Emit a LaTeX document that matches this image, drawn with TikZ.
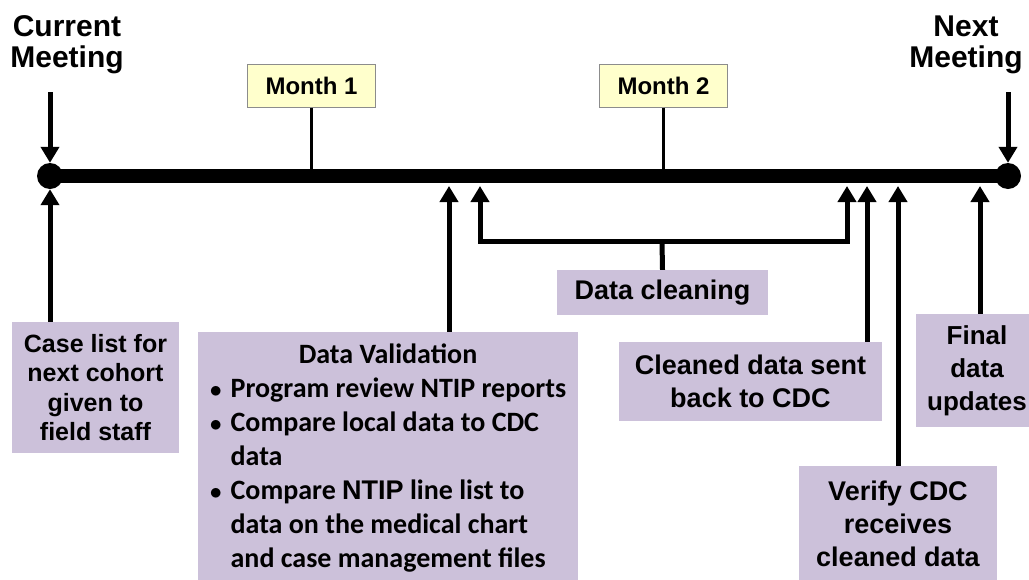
\documentclass[tikz,border=0pt]{standalone}
\usepackage{fontspec}
\setmainfont{Liberation Sans}
\newfontfamily\calfont{Carlito}
\usetikzlibrary{arrows.meta,positioning}
\definecolor{taskfill}{RGB}{204,193,218}
\definecolor{monthfill}{RGB}{255,255,204}
\definecolor{monthedge}{RGB}{140,140,140}

\begin{document}
\begin{tikzpicture}[x=1pt,y=-1pt,
  task/.style={fill=taskfill, inner sep=0pt, align=center, font=\bfseries\fontsize{27}{33}\selectfont},
  month/.style={draw=monthedge, fill=monthfill, line width=1pt, minimum width=128pt, minimum height=43pt, font=\bfseries\fontsize{24}{26}\selectfont},
  meet/.style={align=center, inner sep=0pt, font=\bfseries\fontsize{30}{31}\selectfont},
  dot/.style={circle, fill=black, minimum size=26pt, inner sep=0pt},
  up/.style={line width=5pt, -{Triangle[width=18pt,length=16pt]}},
  stem/.style={line width=3.5pt}]
  \clip (0,0) rectangle (1029,579);

  \node[meet] (curlbl) at (67,45) {Current\\Meeting};
  \node[meet] (nxtlbl) at (966,45) {Next\\Meeting};

  \node[month] (m1) at (311.5,85.5) {Month 1};
  \node[month] (m2) at (663.5,85.5) {Month 2};

  \node[dot] (cm) at (50,176) {};   % current meeting
  \node[dot] (nm) at (1008,176) {}; % next meeting
  \coordinate (tl) at (0,176);

  \draw[stem] (m1.south) -- (m1.south |- tl);
  \draw[stem] (m2.south) -- (m2.south |- tl);
  \draw[line width=14pt] (cm.center) -- (nm.center); % time line

  \coordinate (cmtop) at (50,92);
  \coordinate (nmtop) at (1008,92);
  \draw[up] (cmtop) -- (cm.north);
  \draw[up] (nmtop) -- (nm.north);

  % tasks below the line
  \node[task, minimum width=167pt, minimum height=131pt, font=\bfseries\fontsize{25}{29.5}\selectfont]
    (case) at (95.5,387.5) {Case list for\\next cohort\\given to\\field staff};
  \node[task, minimum width=380pt, minimum height=254pt, font=\calfont\bfseries\fontsize{28}{34}\selectfont]
    (dv) at (388,459) {%
    \begin{tabular}{@{}l@{\hspace{8.5pt}}l@{}}
      \multicolumn{2}{c}{Data Validation}\\
      $\bullet$ & Program review NTIP reports\\
      $\bullet$ & Compare local data to CDC\\
                & data\\
      $\bullet$ & Compare {\rmfamily\fontsize{27}{34}\selectfont NTIP} line list to\\
                & data on the medical chart\\
                & and case management files
    \end{tabular}};
  \node[task, minimum width=211pt, minimum height=45pt] (dc) at (662.5,292.5) {Data cleaning};
  \node[task, minimum width=263pt, minimum height=79pt] (cl) at (750.5,381.5) {Cleaned data sent\\back to CDC};
  \node[task, minimum width=198pt, minimum height=116pt] (vf) at (898,524) {Verify CDC\\receives\\cleaned data};
  \node[task, minimum width=122pt, minimum height=113pt, font=\bfseries\fontsize{26}{33}\selectfont]
    (fd) at (977,370.5) {Final\\data\\updates};

  \coordinate (t1) at (449,186);
  \coordinate (t2) at (480,186);
  \coordinate (t3) at (847,186);
  \coordinate (t4) at (867,186);
  \coordinate (t5) at (898,186);
  \coordinate (t6) at (980,186);
  \coordinate (br) at (662,241); % cleaning bracket

  \draw[up] (case.north -| cm) -- (cm.south);
  \draw[up] (t1 |- dv.north) -- (t1);
  \draw[line width=5pt] (dc.north) -- (br);
  \draw[line width=5pt, {Triangle[width=18pt,length=16pt]}-{Triangle[width=18pt,length=16pt]}]
    (t2) -- (br -| t2) -- (br -| t3) -- (t3);
  \draw[up] (t4 |- cl.north) -- (t4);
  \draw[up] (t5 |- vf.north) -- (t5);
  \draw[up] (t6 |- fd.north) -- (t6);
\end{tikzpicture}
\end{document}
